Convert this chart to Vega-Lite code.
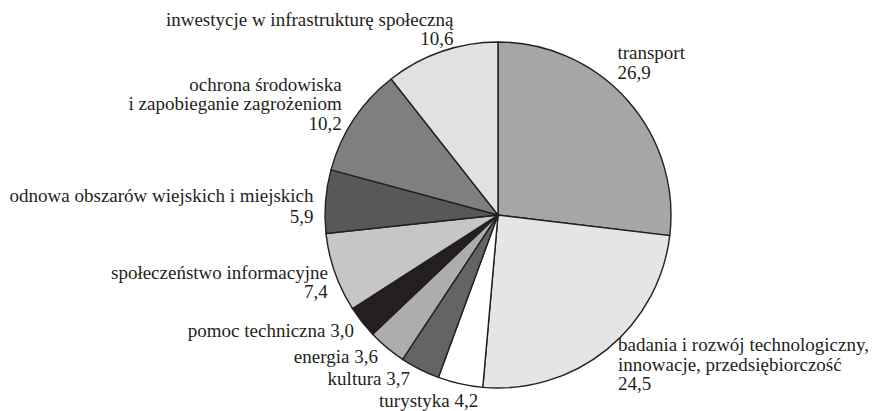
{
  "$schema": "https://vega.github.io/schema/vega-lite/v6.json",
  "autosize": "none",
  "width": 346,
  "height": 346,
  "padding": {"left": 325, "top": 42, "right": 214, "bottom": 23},
  "background": "white",
  "config": {"view": {"stroke": null}, "text": {"font": "Liberation Serif", "fontSize": 19, "color": "#231f20", "baseline": "alphabetic", "lineBreak": "\n", "lineHeight": 19.5, "radius": 173}},
  "data": {"values": [
    {"k": "transport", "v": 26.9, "o": 1, "t": "transport\n26,9"},
    {"k": "badania", "v": 24.5, "o": 2, "t": "badania i rozwój technologiczny,\ninnowacje, przedsiębiorczość\n24,5"},
    {"k": "turystyka", "v": 4.2, "o": 3, "t": "turystyka 4,2"},
    {"k": "kultura", "v": 3.7, "o": 4, "t": "kultura 3,7"},
    {"k": "energia", "v": 3.6, "o": 5, "t": "energia 3,6"},
    {"k": "pomoc", "v": 3.0, "o": 6, "t": "pomoc techniczna 3,0"},
    {"k": "spoleczenstwo", "v": 7.4, "o": 7, "t": "społeczeństwo informacyjne\n7,4"},
    {"k": "odnowa", "v": 5.9, "o": 8, "t": "odnowa obszarów wiejskich i miejskich\n5,9"},
    {"k": "ochrona", "v": 10.2, "o": 9, "t": "ochrona środowiska\ni zapobieganie zagrożeniom\n10,2"},
    {"k": "inwestycje", "v": 10.6, "o": 10, "t": "inwestycje w infrastrukturę społeczną\n10,6"}
  ]},
  "encoding": {
    "theta": {"field": "v", "type": "quantitative", "stack": true},
    "order": {"field": "o", "type": "quantitative"}
  },
  "layer": [
    {
      "mark": {"type": "arc", "stroke": "#231f20", "strokeWidth": 1.4},
      "encoding": {
        "color": {"field": "k", "type": "nominal", "legend": null,
          "scale": {
            "domain": ["transport", "badania", "turystyka", "kultura", "energia", "pomoc", "spoleczenstwo", "odnowa", "ochrona", "inwestycje"],
            "range": ["#a6a6a8", "#e5e5e7", "#ffffff", "#646466", "#adadaf", "#231f20", "#c6c6c8", "#58585a", "#7f7f81", "#e1e1e3"]
          }}
      }
    },
    {
      "mark": {"type": "text", "align": "left", "dx": -10, "dy": -41},
      "encoding": {"text": {"condition": {"test": "datum.k === 'transport'", "field": "t"}, "value": ""}}
    },
    {
      "mark": {"type": "text", "align": "left", "dx": 11, "dy": 2},
      "encoding": {"text": {"condition": {"test": "datum.k === 'badania'", "field": "t"}, "value": ""}}
    },
    {
      "mark": {"type": "text", "align": "right", "dx": 18, "dy": 23},
      "encoding": {"text": {"condition": {"test": "datum.k === 'turystyka'", "field": "t"}, "value": ""}}
    },
    {
      "mark": {"type": "text", "align": "right", "dx": -10, "dy": 16},
      "encoding": {"text": {"condition": {"test": "datum.k === 'kultura'", "field": "t"}, "value": ""}}
    },
    {
      "mark": {"type": "text", "align": "right", "dx": -9, "dy": 15},
      "encoding": {"text": {"condition": {"test": "datum.k === 'energia'", "field": "t"}, "value": ""}}
    },
    {
      "mark": {"type": "text", "align": "right", "dx": -8, "dy": 15},
      "encoding": {"text": {"condition": {"test": "datum.k === 'pomoc'", "field": "t"}, "value": ""}}
    },
    {
      "mark": {"type": "text", "align": "right", "dx": -7, "dy": 6},
      "encoding": {"text": {"condition": {"test": "datum.k === 'spoleczenstwo'", "field": "t"}, "value": ""}}
    },
    {
      "mark": {"type": "text", "align": "right", "dx": -12, "dy": 1, "lineHeight": 20.5},
      "encoding": {"text": {"condition": {"test": "datum.k === 'odnowa'", "field": "t"}, "value": ""}}
    },
    {
      "mark": {"type": "text", "align": "right", "dx": -12, "dy": -29},
      "encoding": {"text": {"condition": {"test": "datum.k === 'ochrona'", "field": "t"}, "value": ""}}
    },
    {
      "mark": {"type": "text", "align": "right", "dx": 12, "dy": -26},
      "encoding": {"text": {"condition": {"test": "datum.k === 'inwestycje'", "field": "t"}, "value": ""}}
    }
  ]
}
